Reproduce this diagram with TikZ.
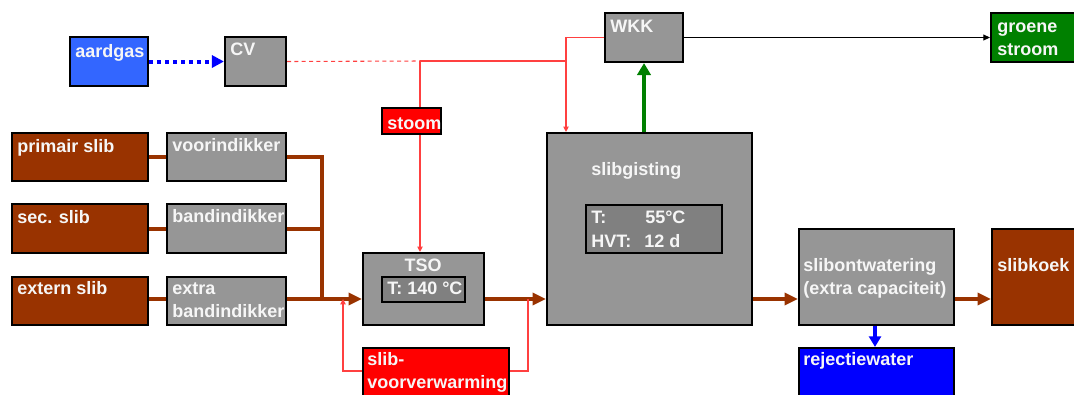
\documentclass[tikz,border=0pt]{standalone}
\usepackage{fontspec}
\setmainfont{Liberation Sans}
\setsansfont{Liberation Sans}
\usetikzlibrary{arrows.meta,fit,calc}
\definecolor{bruin}{HTML}{993300}
\definecolor{grijs}{HTML}{969696}
\definecolor{donkergrijs}{HTML}{808080}
\definecolor{gasblauw}{HTML}{3366FF}
\definecolor{groen}{HTML}{008000}
\definecolor{rood}{HTML}{FF0000}
\definecolor{lichtrood}{HTML}{FF4040}
\definecolor{blauw}{HTML}{0000FF}
\definecolor{wit}{HTML}{F6F6F6}
\begin{document}
\begin{tikzpicture}[x=0.75pt,y=-0.75pt,
 box/.style={draw=black, line width=1.6pt, inner sep=0pt},
 inbox/.style={draw=black, line width=1.4pt, inner sep=0pt, fill=donkergrijs},
 txt/.style={text=wit, font=\bfseries\fontsize{13.5}{17.3}\selectfont, inner sep=0pt, anchor=base west},
 brownflow/.style={draw=bruin, line width=3pt},
 brownarrow/.style={brownflow, -{Triangle[length=10pt,width=9pt]}},
 redline/.style={draw=lichtrood, line width=0.8pt},
 redarrow/.style={redline, -{Triangle[length=4pt,width=4pt]}},
]
\clip (0,0) rectangle (1074,394);
\fill[white] (0,0) rectangle (1074,394);

% boxes
\node[box, fill=gasblauw, fit={(70,37) (148,86)}] (ag) {};
\node[box, fill=grijs, fit={(225,37) (286,86)}] (cv) {};
\node[box, fill=grijs, fit={(605,13) (683,62)}] (wkk) {};
\node[box, fill=groen, fit={(991,13) (1080,62)}] (gs) {};
\node[box, fill=rood, fit={(382,108) (441,134)}] (st) {};
\node[box, fill=bruin, fit={(12,133) (148,181)}] (ps) {};
\node[box, fill=grijs, fit={(167,133) (286,181)}] (vi) {};
\node[box, fill=bruin, fit={(12,204) (148,253)}] (ss) {};
\node[box, fill=grijs, fit={(167,204) (286,253)}] (bi) {};
\node[box, fill=bruin, fit={(12,277) (148,325)}] (es) {};
\node[box, fill=grijs, fit={(167,277) (286,325)}] (eb) {};
\node[box, fill=grijs, fit={(363,253) (484,325)}] (tso) {};
\node[inbox, fit={(382,277) (465,302)}] (tsoin) {};
\node[box, fill=rood, fit={(363,348) (509,400)}] (sv) {};
\node[box, fill=grijs, fit={(547,133) (752,325)}] (sg) {};
\node[inbox, fit={(586,205) (722,253)}] (sgin) {};
\node[box, fill=grijs, fit={(799,229) (954,325)}] (so) {};
\node[box, fill=bruin, fit={(992,229) (1080,325)}] (sk) {};
\node[box, fill=blauw, fit={(799,348) (954,400)}] (rw) {};

% texts
\node[txt] (tag) at (75,57) {aardgas};
\node[txt] (tcv) at (230,55) {CV};
\node[txt] (twkk) at (610,32) {WKK};
\node[txt] (tgs1) at (997,32) {groene};
\node[txt] (tgs2) at (997,55) {stroom};
\node[txt] (tst) at (387,129) {stoom};
\node[txt] (tps) at (17,152) {primair slib};
\node[txt] (tvi) at (172,151) {voorindikker};
\node[txt] (tss) at (17,223) {sec. slib};
\node[txt] (tbi) at (172,222) {bandindikker};
\node[txt] (tes) at (17,294) {extern slib};
\node[txt] (teb1) at (172,294) {extra};
\node[txt] (teb2) at (172,317) {bandindikker};
\node[txt, anchor=base] (ttso) at (423,271) {TSO};
\node[txt] (ttsoin) at (387,294) {T: 140 °C};
\node[txt] (tsg) at (591,175) {slibgisting};
\node[txt] (tsgT) at (591,223) {T:};
\node[txt] (tsgTv) at (645,223) {55°C};
\node[txt] (tsgH) at (591,247) {HVT:};
\node[txt] (tsgHv) at (644,247) {12 d};
\node[txt] (tsv1) at (367,365) {slib-};
\node[txt] (tsv2) at (367,388) {voorverwarming};
\node[txt] (tso1) at (803,271) {slibontwatering};
\node[txt] (tso2) at (803,294) {(extra capaciteit)};
\node[txt] (tsk) at (997,271) {slibkoek};
\node[txt] (trw) at (803,365) {rejectiewater};

% junctions
\coordinate (j1) at (420,61);
\coordinate (j2) at (566,61);
\coordinate (jb) at (322,299);
\coordinate (r1) at (528,299);
\coordinate (r2) at (343,299);

% gas
\draw[blauw, line width=3pt, dash pattern=on 3pt off 3pt, -{Triangle[length=9pt,width=9pt]}] (ag.east) -- (cv.west);
% steam lines
\draw[lichtrood, line width=0.8pt, dash pattern=on 3pt off 2.5pt] (cv.east) -- (j1);
\draw[redline] (j1) -- (j2);
\draw[redline] (j1) -- (j1 |- st.north);
\draw[redarrow] (wkk.west) -| (j2 |- sg.north);
\draw[redarrow] (j1 |- st.south) -- (j1 |- tso.north);
% biogas
\draw[groen, line width=3.5pt, -{Triangle[length=9pt,width=10pt]}] (wkk.south |- sg.north) -- (wkk.south);
\draw[black, line width=0.8pt, -{Triangle[length=5pt,width=4.5pt]}] (wkk.east) -- (gs.west |- wkk.east);
% sludge lines
\draw[brownflow] (ps.east) -- (vi.west |- ps.east);
\draw[brownflow] (ss.east) -- (bi.west |- ss.east);
\draw[brownflow] (es.east |- jb) -- (eb.west |- jb);
\draw[brownflow] (vi.east) -| (jb);
\draw[brownflow] (bi.east) -- (bi.east -| jb);
\draw[brownarrow] (eb.east |- jb) -- (tso.west |- jb);
\draw[brownarrow] (tso.east |- jb) -- (sg.west |- jb);
\draw[brownarrow] (sg.east |- jb) -- (so.west |- jb);
\draw[brownarrow] (so.east |- jb) -- (sk.west |- jb);
% reject water
\draw[blauw, line width=3pt, -{Triangle[length=8pt,width=9pt]}] (so.south -| 875,0) -- (rw.north -| 875,0);
% preheating loop
\draw[redline] (r1) |- (sv.east |- 0,371);
\draw[redarrow] (sv.west |- 0,371) -| (r2);
\end{tikzpicture}
\end{document}
